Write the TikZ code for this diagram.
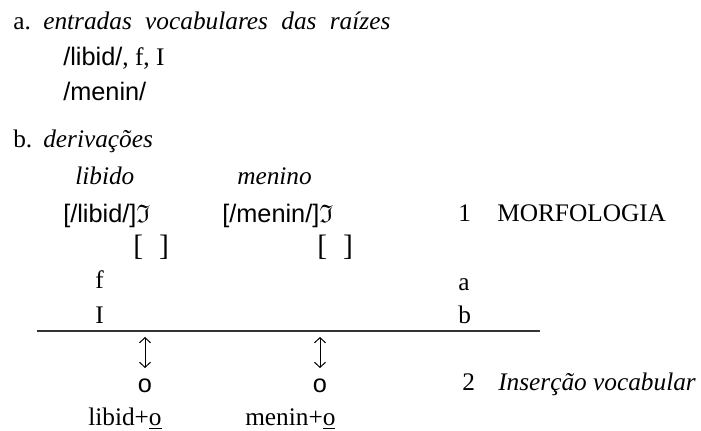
\documentclass[tikz,border=0pt]{standalone}
\usepackage{amssymb}
\usepackage{fontspec}
\setmainfont{Liberation Serif}
\newfontfamily\arialfont{Liberation Sans}
\usepackage{tikz}
\usetikzlibrary{positioning, arrows.meta}

\begin{document}
\begin{tikzpicture}[
    x=0.025cm, y=-0.025cm,
    txt/.style={anchor=base west, inner sep=0pt, font=\fontsize{18}{22}\selectfont},
    ctr/.style={txt, anchor=base},
    rule/.style={line width=0.9pt, black!80},
    updown/.style={{Straight Barb[length=1.3mm, width=2.8mm]}-{Straight Barb[length=1.3mm, width=2.8mm]}, line width=0.7pt},
]
    \useasboundingbox (0,0) rectangle (701,430);

    % a. vocabulary entries
    \node[txt] (lbla) at (13,29) {a.};
    \node[txt] (hdra) at (43,29) {\makebox[8.675cm][s]{\itshape entradas vocabulares das raízes}};
    \node[txt] (rootlibid) at (63,65) {{\arialfont /libid/}, f, I};
    \node[txt] (rootmenin) at (63,100) {\arialfont /menin/};

    % b. derivations
    \node[txt] (lblb) at (13,147) {b.};
    \node[txt] (hdrb) at (43,147) {\itshape derivações};
    \node[txt] (wlibido) at (75,184) {\itshape libido};
    \node[txt] (wmenino) at (237,184) {\itshape menino};
    \node[txt] (mlibid) at (63,222) {{\arialfont [/libid/]}$\mathfrak{I}$};
    \node[txt] (mmenin) at (222,222) {{\arialfont [/menin/]}$\mathfrak{I}$};
    \node[txt] (step1) at (458,221) {1};
    \node[txt] (morf) at (497,221) {MORFOLOGIA};

    % empty brackets
    \foreach \x/\n in {133/a, 317/b} {
        \node[txt, font=\fontsize{21}{24}\selectfont] (brk\n) at (\x,255) {[\hspace{0.4cm}]};
    }

    % features
    \node[txt] (featf) at (95,288) {f};
    \node[txt] (rowa) at (458,290) {a};
    \node[txt] (featI) at (95,323) {I};
    \node[txt] (rowb) at (458,323) {b};

    % separating line
    \coordinate (rulel) at (37,331);
    \coordinate (ruler) at (540,331);
    \draw[rule] (rulel) -- (ruler);

    % vocabulary insertion
    \foreach \x/\n in {145/a, 320/b} {
        \coordinate (arrtop\n) at (\x,337);
        \coordinate (arrbot\n) at (\x,368);
        \draw[updown] (arrtop\n) -- (arrbot\n);
        \node[ctr] (o\n) at (\x,392) {\arialfont o};
    }
    \node[txt] (step2) at (462,390) {2};
    \node[txt] (insert) at (498,390) {\itshape Inserção vocabular};

    \node[txt] (outa) at (88,425) {libid+\underline{o}};
    \node[txt] (outb) at (245,425) {menin+\underline{o}};
\end{tikzpicture}
\end{document}
